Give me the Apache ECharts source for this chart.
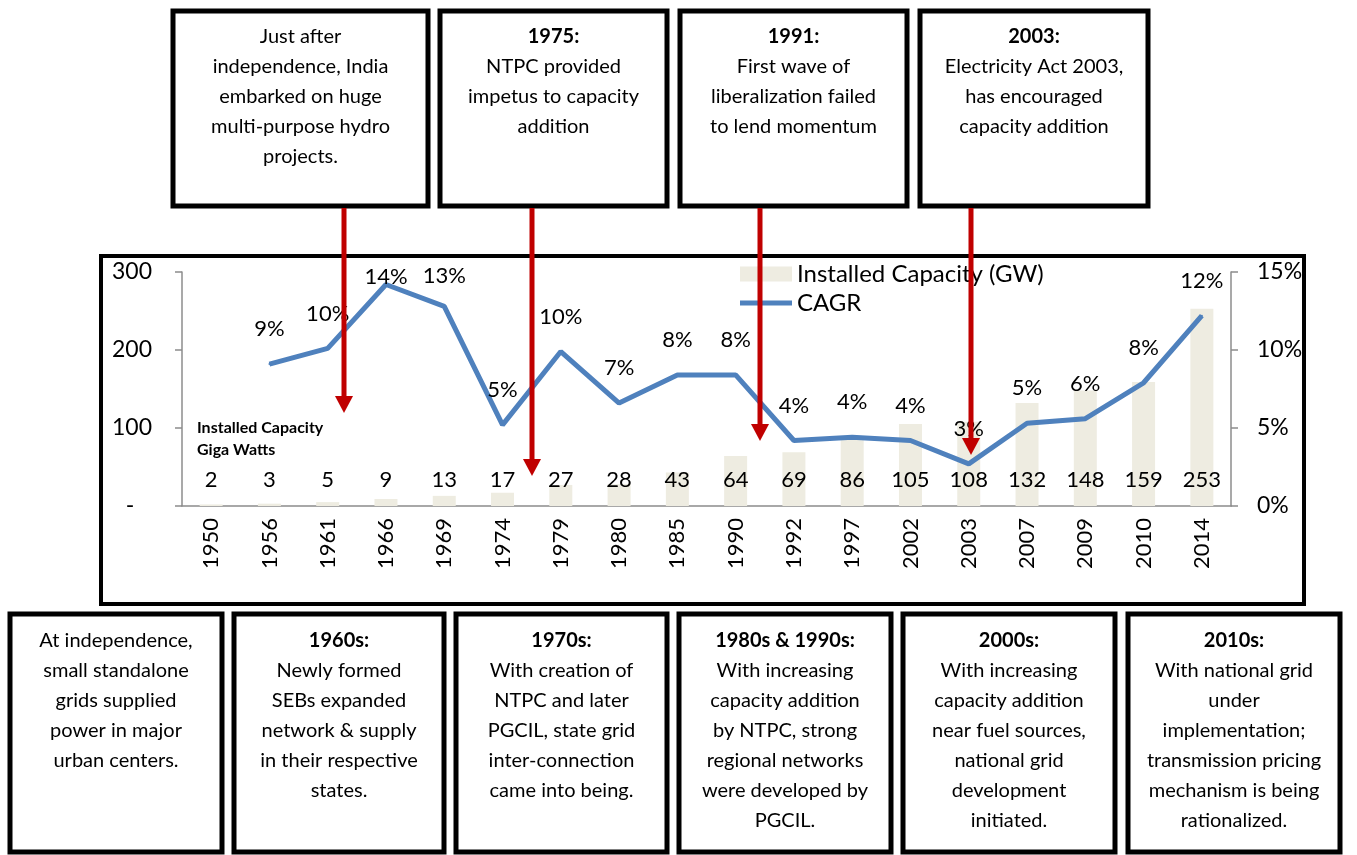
<!DOCTYPE html>
<html>
<head>
<meta charset="utf-8">
<script src="https://cdn.jsdelivr.net/npm/echarts@6/dist/echarts.min.js"></script>
<style>
  html, body { margin: 0; padding: 0; background: #fff; }
  #chart { width: 1357px; height: 855px; }
</style>
</head>
<body>
<div id="chart"></div>
<script>
// data
const years = ['1950', '1956', '1961', '1966', '1969', '1974', '1979', '1980', '1985',
    '1990', '1992', '1997', '2002', '2003', '2007', '2009', '2010', '2014'];
const capacity = [2, 3, 5, 9, 13, 17, 27, 28, 43, 64, 69, 86, 105, 108, 132, 148, 159, 253];
const cagr = [null, 9.1, 10.1, 14.2, 12.8, 5.2, 9.9, 6.6, 8.4, 8.4, 4.2, 4.4, 4.2, 2.7, 5.3, 5.6, 7.9, 12.2];
const leftTicks = [0, 100, 200, 300];
const rightTicks = [0, 5, 10, 15];

const topNotes = [
    'Just after\nindependence, India\nembarked on huge\nmulti-purpose hydro\nprojects.',
    '{b|1975:}\nNTPC provided\nimpetus to capacity\naddition',
    '{b|1991:}\nFirst wave of\nliberalization failed\nto lend momentum',
    '{b|2003:}\nElectricity Act 2003,\nhas encouraged\ncapacity addition'
];
const bottomNotes = [
    'At independence,\nsmall standalone\ngrids supplied\npower in major\nurban centers.',
    '{b|1960s:}\nNewly formed\nSEBs expanded\nnetwork & supply\nin their respective\nstates.',
    '{b|1970s:}\nWith creation of\nNTPC and later\nPGCIL, state grid\ninter-connection\ncame into being.',
    '{b|1980s & 1990s:}\nWith increasing\ncapacity addition\nby NTPC, strong\nregional networks\nwere developed by\nPGCIL.',
    '{b|2000s:}\nWith increasing\ncapacity addition\nnear fuel sources,\nnational grid\ndevelopment\ninitiated.',
    '{b|2010s:}\nWith national grid\nunder\nimplementation;\ntransmission pricing\nmechanism is being\nrationalized.'
];

const FONT = 'Lato, "Open Sans", sans-serif';

// box layout (pixels)
const topBoxes = [[173, 428], [440, 667], [680, 907], [920, 1148]];
const bottomBoxes = [[10, 222], [234, 444], [456, 667], [679, 891], [903, 1115], [1128, 1340]];
const arrows = [[344, 413], [532, 476], [760, 441], [971, 455]];

// label nudges where the 14% / 13% labels sit lower
const labelDistance = { 3: -5, 4: 17 };

const chart = echarts.init(document.getElementById('chart'));

function noteText(txt, cx, top) {
    return {
        type: 'text',
        z: 50,
        style: {
            text: txt,
            x: cx,
            y: top,
            align: 'center',
            verticalAlign: 'top',
            fontFamily: FONT,
            fontSize: 20,
            lineHeight: 30,
            fill: '#000',
            rich: {
                b: { fontFamily: FONT, fontSize: 20, fontWeight: 'bold', lineHeight: 30, fill: '#000' }
            }
        }
    };
}

const graphics = [];
// chart frame
graphics.push({
    type: 'rect', z: 40,
    shape: { x: 101, y: 256, width: 1203, height: 348 },
    style: { fill: 'none', stroke: '#000', lineWidth: 4 }
});
topBoxes.forEach(function (b, i) {
    graphics.push({
        type: 'rect', z: 40,
        shape: { x: b[0], y: 11, width: b[1] - b[0], height: 195 },
        style: { fill: '#fff', stroke: '#000', lineWidth: 5 }
    });
    graphics.push(noteText(topNotes[i], (b[0] + b[1]) / 2, 22));
});
bottomBoxes.forEach(function (b, i) {
    graphics.push({
        type: 'rect', z: 40,
        shape: { x: b[0], y: 614, width: b[1] - b[0], height: 238 },
        style: { fill: '#fff', stroke: '#000', lineWidth: 5 }
    });
    graphics.push(noteText(bottomNotes[i], (b[0] + b[1]) / 2, 626));
});
arrows.forEach(function (a) {
    graphics.push({
        type: 'line', z: 100,
        shape: { x1: a[0], y1: 208, x2: a[0], y2: a[1] - 14 },
        style: { stroke: '#C00000', lineWidth: 5 }
    });
    graphics.push({
        type: 'polygon', z: 100,
        shape: { points: [[a[0] - 9, a[1] - 17], [a[0] + 9, a[1] - 17], [a[0], a[1]]] },
        style: { fill: '#C00000' }
    });
});
graphics.push({
    type: 'text', z: 50,
    style: {
        text: 'Installed Capacity\nGiga Watts',
        x: 197, y: 417,
        fontFamily: FONT, fontSize: 16, fontWeight: 'bold',
        lineHeight: 22, fill: '#000'
    }
});

const option = {
    animation: false,
    textStyle: { fontFamily: FONT },
    grid: { left: 182, right: 126, top: 272, bottom: 349 },
    legend: {
        orient: 'vertical',
        left: 735,
        top: 256,
        itemWidth: 52,
        itemHeight: 15,
        itemGap: 3,
        textStyle: { fontSize: 24, color: '#000', fontFamily: FONT, lineHeight: 26 },
        data: [
            { name: 'Installed Capacity (GW)', icon: 'rect' },
            { name: 'CAGR', icon: 'path://M0,0 L52,0 L52,5 L0,5 Z' }
        ]
    },
    xAxis: {
        type: 'category',
        data: years,
        axisLine: { lineStyle: { color: '#8c8c8c', width: 1.5 } },
        axisTick: { show: false },
        axisLabel: { rotate: 90, fontSize: 22, color: '#000', margin: 12, interval: 0 }
    },
    yAxis: [
        {
            type: 'value',
            min: leftTicks[0],
            max: leftTicks[leftTicks.length - 1],
            interval: leftTicks[1] - leftTicks[0],
            axisLine: { show: true, lineStyle: { color: '#8c8c8c', width: 1.5 } },
            axisTick: { show: true, length: 7, lineStyle: { color: '#8c8c8c', width: 1.5 } },
            splitLine: { show: false },
            axisLabel: {
                fontSize: 23, color: '#000', margin: 30,
                formatter: function (v) { return v === 0 ? '-   ' : v; }
            }
        },
        {
            type: 'value',
            min: rightTicks[0],
            max: rightTicks[rightTicks.length - 1],
            interval: rightTicks[1] - rightTicks[0],
            axisLine: { show: true, lineStyle: { color: '#8c8c8c', width: 1.5 } },
            axisTick: { show: true, length: 7, lineStyle: { color: '#8c8c8c', width: 1.5 } },
            splitLine: { show: false },
            axisLabel: { fontSize: 23, color: '#000', margin: 26, formatter: '{value}%' }
        }
    ],
    series: [
        {
            name: 'Installed Capacity (GW)',
            type: 'bar',
            yAxisIndex: 0,
            barWidth: 23,
            itemStyle: { color: '#EEECE1' },
            label: {
                show: true,
                position: 'insideBottom',
                distance: 14,
                fontSize: 22,
                lineHeight: 24,
                color: '#000'
            },
            data: capacity
        },
        {
            name: 'CAGR',
            type: 'line',
            yAxisIndex: 1,
            symbol: 'circle',
            symbolSize: 2,
            itemStyle: { color: '#4F81BD' },
            lineStyle: { color: '#4F81BD', width: 5 },
            label: {
                show: true,
                position: 'top',
                distance: 22,
                fontSize: 22,
                lineHeight: 24,
                color: '#000',
                formatter: function (p) { return Math.round(p.value) + '%'; }
            },
            data: cagr.map(function (v, i) {
                if (labelDistance[i] !== undefined) {
                    return { value: v, label: { distance: labelDistance[i] } };
                }
                return v;
            })
        }
    ],
    graphic: graphics
};

chart.setOption(option);

window.addEventListener('resize', function () {
    chart.resize();
});
</script>
</body>
</html>
